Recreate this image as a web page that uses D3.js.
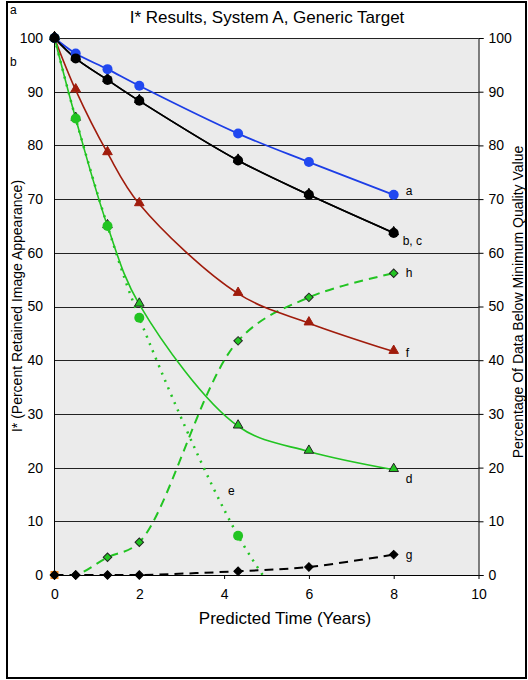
<!DOCTYPE html>
<html><head><meta charset="utf-8">
<script src="https://cdn.jsdelivr.net/npm/d3@7"></script>
<style>html,body{margin:0;padding:0;background:#fff;}svg{display:block;font-family:"Liberation Sans",Arial,Helvetica,sans-serif;}</style>
</head><body><svg id="c" width="528" height="680"></svg>
<script>
// ---- data ----
const years = [0, 0.5, 1.25, 2, 4.33, 6, 8];
const serA = [100, 97.1, 94.2, 91.1, 82.2, 76.9, 70.8];
const serB = [100, 96.2, 92.2, 88.3, 77.2, 70.8, 63.7];
const serC = [100, 96.2, 92.2, 88.3, 77.2, 70.8, 63.7];
const serD = [100, 85, 65, 50.4, 27.7, 23.0, 19.6];
const serEYears = [0, 0.5, 1.25, 2, 4.33, 6];
const serE = [100, 85, 65, 47.9, 7.3, -12];
const serF = [100, 90.3, 78.6, 69.1, 52.4, 46.9, 41.6];
const serG = [0, 0, 0, 0, 0.7, 1.5, 3.8];
const serH = [0, 0, 3.3, 6.1, 43.6, 51.7, 56.2];
const yTicks = [0, 10, 20, 30, 40, 50, 60, 70, 80, 90, 100];
const xTicks = [0, 2, 4, 6, 8, 10];
const seriesLabels = [
  {t: "a", x: 8, y: 70.8}, {t: "b, c", x: 8, y: 63.7}, {t: "h", x: 8, y: 56.2},
  {t: "f", x: 8, y: 41.6}, {t: "d", x: 8, y: 19.6}, {t: "e", x: 4.33, y: 15.7}, {t: "g", x: 8, y: 3.8}
];

const svg = d3.select("#c");
const L = 54.5, R = 478.5, T = 38, B = 575;
const x = d3.scaleLinear().domain([0, 10]).range([L, R]);
const y = d3.scaleLinear().domain([0, 100]).range([B, T]);

svg.append("rect").attr("x", 7).attr("y", 2).attr("width", 519).attr("height", 676)
  .attr("fill", "none").attr("stroke", "#000").attr("stroke-width", 2);

// plot background
svg.append("rect").attr("x", L).attr("y", T).attr("width", R - L).attr("height", B - T).attr("fill", "#ebebeb");
// gridlines
svg.append("g").selectAll("line").data(yTicks).join("line")
  .attr("x1", L).attr("x2", R).attr("y1", d => Math.round(y(d)) + 0.5).attr("y2", d => Math.round(y(d)) + 0.5)
  .attr("stroke", "#222").attr("stroke-width", 1);
// left and bottom lines
svg.append("line").attr("x1", L).attr("x2", L).attr("y1", T).attr("y2", B).attr("stroke", "#000");
svg.append("line").attr("x1", L).attr("x2", R).attr("y1", B + 0.5).attr("y2", B + 0.5).attr("stroke", "#000");

// left axis labels
svg.append("g").selectAll("text").data(yTicks).join("text")
  .attr("x", 43).attr("y", d => y(d)).attr("dy", "0.35em").attr("text-anchor", "end")
  .attr("font-size", 14).text(d => d);
// right axis
const rAxis = d3.axisRight(y).tickValues(yTicks).tickSize(5).tickPadding(5);
const rg = svg.append("g").attr("transform", `translate(${R},0)`).call(rAxis);
rg.select(".domain").attr("stroke", "#000");
rg.selectAll("text").attr("font-size", 14).attr("font-family", "Liberation Sans, Arial, sans-serif").attr("fill", "#000").attr("x", 10);
// bottom axis
const bAxis = d3.axisBottom(x).tickValues(xTicks).tickSize(4).tickPadding(10);
const bg = svg.append("g").attr("transform", `translate(0,${B})`).call(bAxis);
bg.select(".domain").remove();
bg.selectAll("text").attr("font-size", 14).attr("font-family", "Liberation Sans, Arial, sans-serif").attr("fill", "#000");

// titles
svg.append("text").attr("x", 267).attr("y", 23).attr("text-anchor", "middle").attr("font-size", 17).text("I* Results, System A, Generic Target");
svg.append("text").attr("x", 285).attr("y", 624).attr("text-anchor", "middle").attr("font-size", 17).text("Predicted Time (Years)");
svg.append("text").attr("transform", "translate(22,306) rotate(-90)").attr("text-anchor", "middle").attr("font-size", 14).text("I* (Percent Retained Image Appearance)");
svg.append("text").attr("transform", "translate(523,302) rotate(-90)").attr("text-anchor", "middle").attr("font-size", 14).text("Percentage Of Data Below Minimum Quality Value");
svg.append("text").attr("x", 10).attr("y", 14).attr("font-size", 12).text("a");
svg.append("text").attr("x", 10).attr("y", 66).attr("font-size", 12).text("b");

// clip
svg.append("clipPath").attr("id", "pc").append("rect").attr("x", L).attr("y", T - 2).attr("width", R - L).attr("height", B - T + 2);

const line = d3.line().x(d => x(d[0])).y(d => y(d[1])).curve(d3.curveCatmullRom.alpha(0.5));
const zip = (xs, ys) => xs.map((v, i) => [v, ys[i]]);
const lines = svg.append("g").attr("clip-path", "url(#pc)");
const marks = svg.append("g");

const tri = d3.symbol().type(d3.symbolTriangle).size(40);
const dia = d3.symbol().type(d3.symbolSquare).size(36);
const sq = d3.symbol().type(d3.symbolSquare).size(64);

function drawSeries(xs, ys, color, dash, width, marker, mfill, mstroke, r) {
  lines.append("path").attr("d", line(zip(xs, ys))).attr("fill", "none").attr("stroke", color)
    .attr("stroke-width", width).attr("stroke-dasharray", dash || null);
  const pts = zip(xs, ys).filter(p => p[1] >= 0 && p[1] <= 100);
  const g = marks.append("g");
  if (marker === "circle") {
    g.selectAll("circle").data(pts).join("circle").attr("cx", d => x(d[0])).attr("cy", d => y(d[1])).attr("r", r)
      .attr("fill", mfill).attr("stroke", mstroke || "none").attr("stroke-width", 1);
  } else {
    const sym = marker === "tri" ? tri : dia;
    g.selectAll("path").data(pts).join("path").attr("d", sym)
      .attr("transform", d => marker === "tri" ? `translate(${x(d[0])},${y(d[1]) - 1})` : `translate(${x(d[0])},${y(d[1])}) rotate(45)`)
      .attr("fill", mfill).attr("stroke", mstroke || "none").attr("stroke-width", 1);
  }
}

// orange marker at origin
marks.append("path").attr("d", sq).attr("transform", `translate(${x(0)},${y(0)})`).attr("fill", "#f58a1f");

drawSeries(years, serH, "#22c422", "9,6", 2, "dia", "#22c422", "#222");
drawSeries(years, serG, "#000", "9,6", 2, "dia", "#000", "#000");
drawSeries(years, serF, "#a01c0c", null, 1.6, "tri", "#a01c0c", "#a01c0c");
drawSeries(years, serD, "#22c422", null, 1.6, "tri", "#22c422", "#222");
drawSeries(serEYears, serE, "#22c422", "2,6", 2.5, "circle", "#22c422", null, 5);
drawSeries(years, serC, "#000", null, 1.6, "tri", "#000", "#000");
drawSeries(years, serA, "#1d3ee6", null, 1.8, "circle", "#2148f0", null, 5);
drawSeries(years, serB, "#000", null, 1.6, "circle", "#000", null, 5);

// series labels
svg.append("g").selectAll("text").data(seriesLabels).join("text")
  .attr("x", d => d.t === "e" ? x(d.x) - 10 : x(d.x) + (d.t === "b, c" ? 9 : 12))
  .attr("y", d => y(d.y) + (d.t === "a" ? -4 : d.t === "b, c" ? 8 : d.t === "d" ? 9 : d.t === "h" ? 0 : d.t === "f" ? 1 : 0))
  .attr("dy", "0.35em").attr("font-size", 12).text(d => d.t);
</script></body></html>
